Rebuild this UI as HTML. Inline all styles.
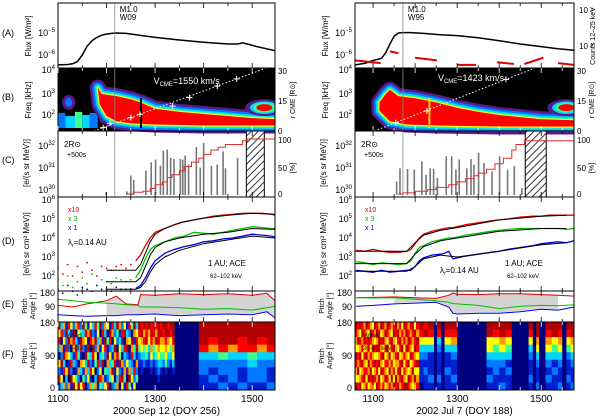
<!DOCTYPE html>
<html><head><meta charset="utf-8">
<style>
html,body{margin:0;padding:0;background:#fff;}
svg{display:block;font-family:"Liberation Sans",sans-serif;}
text{font-family:"Liberation Sans",sans-serif;}
</style></head>
<body>
<svg id="fig" width="600" height="416" viewBox="0 0 600 416" xmlns="http://www.w3.org/2000/svg">
<defs>
<pattern id="hatch" width="5" height="5" patternUnits="userSpaceOnUse" patternTransform="rotate(45)">
<rect width="5" height="5" fill="#fff"/><line x1="0" y1="0" x2="0" y2="5" stroke="#000" stroke-width="1.6"/>
</pattern>
</defs>
</svg>
<script>
// ---------------- DATA (left: 2000 Sep 12, right: 2002 Jul 7) ----------------
const xTickLabels=[1100,1300,1500];
// Panel A: GOES flux (log10 W/m^2)
const LA_t=[1100,1120,1130,1140,1150,1160,1170,1180,1190,1200,1210,1220,1240,1260,1300,1350,1400,1450,1470,1480,1490,1510,1530,1547];
const LA_v=[-6.45,-6.43,-6.4,-6.3,-6.0,-5.6,-5.35,-5.2,-5.1,-5.05,-5.02,-5.0,-5.02,-5.08,-5.2,-5.32,-5.42,-5.5,-5.5,-5.45,-5.5,-5.62,-5.72,-5.8];
const RA_t=[1057,1080,1100,1120,1130,1140,1150,1160,1170,1190,1220,1260,1300,1350,1400,1450,1500,1540,1578];
const RA_v=[-6.45,-6.38,-6.25,-6.15,-5.9,-5.5,-5.15,-5.0,-4.98,-4.98,-5.02,-5.08,-5.12,-5.22,-5.35,-5.5,-5.62,-5.72,-5.78];
// RHESSI counts segments (log10 counts): start, end, level at start, level at end
const RC_s=[1057,1140,1200,1300,1395,1460,1540];
const RC_e=[1118,1160,1252,1345,1435,1505,1578];
const RC_v0=[1.2,1.7,1.35,0.95,1.1,1.0,1.05];
const RC_v1=[1.05,1.6,1.2,0.95,1.0,1.35,0.95];
// Panel B: type III red core (t, log10 kHz)
const LB_t=[1182,1190,1220,1250,1270,1300,1350,1400,1450,1500,1547,1547,1400,1300,1250,1220,1200,1186];
const LB_f=[3.3,3.0,2.9,2.75,2.6,2.3,2.15,2.05,1.95,1.85,1.8,1.5,1.5,1.55,1.6,1.7,1.95,2.5];
const RB_t=[1115,1130,1140,1160,1200,1250,1300,1350,1400,1450,1500,1578,1578,1400,1250,1180,1140,1115];
const RB_f=[2.6,3.0,3.2,2.9,2.8,2.6,2.35,2.15,2.0,1.9,1.8,1.75,1.45,1.45,1.5,1.55,1.7,2.2];
// CME height-time points (R_sun)
const LH_t=[1193,1207,1250,1269,1336,1371,1428,1468];
const LH_r=[1.6,3.7,6.3,7.9,11.9,15.9,21.4,24.8];
const RH_t=[1154,1228,1416];
const RH_r=[4,9.5,24.6];
const vcme=['1550','1423'];
// Panel C: release histogram (log10) and cumulative %
const LC_t=[1199,1242,1250,1256,1281,1292,1301,1311,1317,1325,1332,1339,1352,1357,1362,1369,1385,1393,1400,1416,1428,1440,1445,1470,1503];
const LC_v=[29.9,29.95,30.67,30.48,30.9,31.27,31.4,31.12,31.8,31.85,31.47,31.42,31.42,31.4,31.58,31.17,31.97,31.03,32.15,31.12,31.17,31.77,31.0,31.47,31.55];
const RCh_t=[1156,1164,1182,1198,1216,1226,1236,1244,1253,1274,1287,1297,1305,1323,1333,1340,1351,1364,1383,1401,1420,1436,1454,1490];
const RCh_v=[30.4,31.0,30.97,30.94,31.32,30.7,31.0,30.97,30.56,31.55,31.55,30.94,31.4,31.0,31.42,31.17,31.7,31.24,30.86,31.55,30.94,31.1,30.1,31.32];
const LS_t=[1240,1255,1275,1290,1300,1315,1325,1335,1350,1360,1375,1390,1400,1415,1430,1445,1480,1490,1547];
const LS_p=[0,3,5,10,17,22,30,35,42,50,58,65,72,80,85,90,97,100,100];
const RS_t=[1160,1170,1200,1230,1250,1280,1300,1320,1340,1350,1370,1390,1410,1430,1440,1460,1578];
const RS_p=[0,2,5,8,12,17,22,28,33,38,45,55,65,80,90,97,97];
const hatchL=[1488,1525], hatchR=[1462,1512];
// Panel D: intensities (log10)
const LD_t=[1100,1110,1120,1130,1140,1150,1160,1170,1180,1190,1200,1210,1220,1230,1240,1250,1260,1270,1280,1290,1300,1320,1340,1360,1380,1400,1420,1440,1460,1480,1500,1520,1540,1547];
const LD_r=[2.4,2.1,2.6,2.0,2.5,2.2,2.7,2.3,2.0,2.5,2.4,2.3,2.5,2.6,2.4,2.6,2.8,3.1,3.6,4.0,4.3,4.5,4.7,4.85,4.95,5.05,5.15,5.2,5.25,5.3,5.3,5.3,5.25,5.2];
const LD_g=[1.8,1.5,2.0,1.4,1.7,1.9,1.6,2.1,1.5,1.8,1.7,1.6,1.9,1.8,1.7,1.8,1.9,2.3,2.9,3.4,3.6,3.8,4.0,4.1,4.3,4.25,4.2,4.3,4.4,4.5,4.6,4.55,4.5,4.5];
const LD_b=[1.3,1.1,1.5,1.2,1.0,1.4,1.3,1.2,1.5,1.3,1.3,1.2,1.4,1.3,1.3,1.3,1.35,1.5,1.9,2.4,2.8,3.2,3.4,3.55,3.65,3.8,3.85,3.95,4.0,4.1,4.2,4.15,4.1,4.05];
const LM_t=[1200,1260,1270,1280,1290,1300,1320,1350,1400,1450,1500,1547];
const LM_r=[2.3,2.3,2.6,3.2,3.8,4.2,4.5,4.8,5.05,5.2,5.3,5.25];
const LM_g=[1.7,1.7,1.9,2.5,3.1,3.5,3.8,4.0,4.2,4.3,4.5,4.45];
const LM_b=[1.3,1.3,1.4,1.7,2.2,2.6,3.0,3.35,3.7,3.9,4.1,4.0];
const RD_t=[1060,1080,1100,1120,1140,1160,1180,1190,1200,1210,1220,1240,1260,1270,1280,1290,1300,1320,1350,1380,1400,1420,1450,1480,1500,1520,1540,1560,1578];
const RD_r=[3.35,3.3,3.4,3.3,3.25,3.25,3.3,3.4,3.7,4.0,4.2,4.35,4.45,4.5,4.55,4.55,4.6,4.7,4.8,4.9,4.95,5.0,5.1,5.15,5.15,5.2,5.2,5.2,5.2];
const RD_g=[2.75,2.7,2.6,2.7,2.65,2.6,2.65,2.8,3.2,3.5,3.6,3.8,3.9,3.95,4.0,4.0,4.05,4.15,4.25,4.35,4.4,4.45,4.5,4.5,4.5,4.5,4.5,4.45,4.5];
const RD_b=[2.3,2.25,2.2,2.3,2.2,2.25,2.3,2.3,2.5,2.8,2.95,3.1,3.15,3.2,3.3,2.9,2.95,3.05,3.15,3.25,3.3,3.4,3.5,3.6,3.7,3.75,3.8,3.75,3.85];
const RM_t=[1057,1180,1200,1220,1260,1300,1400,1500,1560];
const RM_r=[3.3,3.3,3.75,4.15,4.4,4.55,4.95,5.15,5.2];
const RM_g=[2.65,2.65,3.15,3.55,3.85,4.0,4.35,4.5,4.5];
const RM_b=[2.25,2.25,2.5,2.9,3.1,3.0,3.3,3.65,3.75];
// Panel E: pitch angles (deg)
const LE_t=[1100,1130,1160,1200,1220,1240,1265,1270,1300,1350,1400,1450,1500,1530,1547];
const LE_r=[100,90,110,130,160,110,105,170,165,175,170,175,165,178,130];
const LE_g=[140,130,120,115,110,105,100,90,90,85,75,80,70,85,95];
const LE_b=[40,35,30,35,35,40,40,42,45,35,40,45,40,60,20];
const RE_t=[1060,1100,1150,1200,1250,1280,1290,1300,1350,1400,1450,1500,1540,1578];
const RE_r=[150,152,155,150,145,165,180,172,170,175,175,170,165,160];
const RE_g=[150,148,150,140,130,120,112,110,100,80,95,100,98,105];
const RE_b=[95,100,110,115,120,90,50,45,50,50,60,75,70,90];
const grayL=[1195,1555], grayR=[1150,1560];
// Panel F: pitch-angle distribution columns (start time, 9 rows top->bottom, colour index)
const LF_t=[
1100,1105,1110,1115,1120,
1125,1130,1135,1140,1145,
1150,1155,1160,1165,1170,
1175,1180,1185,1190,1195,
1200,1205,1210,1215,1220,
1225,1230,1235,1240,1245,
1250,1255,1260,
1265,1270,1275,1280,1285,
1290,1295,1300,1305,1310,
1315,1320,1325,1330,1335,
1340,
1390,1410,1430,1450,1470,
1490,1510,1530];
const LF_c=[
"857305271","370628153","625183706","182760532","738251806",
"516037281","287613058","603872145","751340628","248716305",
"836205147","475183620","160748352","587032716","326871504",
"718254036","453607281","806132574","271548063","638720415",
"504186327","187253640","760314852","325867103","842071536",
"613548270","279306185","580732641","136825907","725013684",
"408672351","861430725","357816240",
"875421000","786531100","867432000","778541000","865321000",
"787652100","876431000","768542100","887653210","786543100",
"876542000","887654100","786532000","875431000","887653100",
"000000000",
"888732211","887632121","888742212","888632221","887732112",
"888743221","887632221","888732112"];
const RF_t=[
1057,1062,1067,1072,1077,
1082,1087,1092,1097,1102,
1107,1112,1117,1122,1127,
1132,1137,1142,1147,1152,
1157,1162,1167,1172,1177,
1182,1187,1192,1197,1202,
1210,1220,1230,1245,1252,
1262,1270,1285,1300,1370,
1385,1400,1415,1430,1470,
1480,1488,1495,1510,1525,
1540,1550,1560,1570];
const RF_c=[
"876587658","768576857","857687568","786758675","678576786",
"867685757","758768685","687576876","576867587","865758675",
"786857768","678768587","857676856","768585767","686757685",
"875867576","767586857","658757686","786865758","875676587",
"687586768","768757876","576868587","867575768","786867658",
"678758587","767685676","876576865","587867586","768758567",
"875321110","785321211","875311121","000000000","873211121",
"000000000","875311211","876321121","000000000","885532121",
"875432211","886532112","875431211","000000000","875321121",
"000000000","886532112","000000000","876532121","885431211",
"876532112","000000000","875421121","886532112"];
// Spectrogram lower background band segments (start, end, top log f, colour index)
const LBg_s=[1100,1115,1135,1150,1165];
const LBg_e=[1115,1135,1150,1165,1182];
const LBg_f=[2.1,1.95,2.15,2.0,2.1];
const LBg_c=[2,3,4,3,2];
const palette=['#00007f','#0020d0','#0078ff','#00d4ff','#3cff8c','#ffff00','#ff9a00','#ff0000','#b40000','#5a1a8c'];

// ---------------- LAYOUT ----------------
const NS='http://www.w3.org/2000/svg';
const svg=document.getElementById('fig');
function el(tag,attrs,name,parent){
  const e=document.createElementNS(NS,tag);
  for(const k in attrs)e.setAttribute(k,attrs[k]);
  
  
  (parent||svg).appendChild(e);return e;
}
function txt(x,y,s,attrs,name){const t=el('text',Object.assign({x:x,y:y,fill:'#000'},attrs||{}),name);t.textContent=s;return t;}
function pow10(x,y,exp,anchor,name,fs){
  const t=el('text',{x:x,y:y,'font-size':fs||9,'text-anchor':anchor||'end'},name);
  const a=document.createElementNS(NS,'tspan');a.textContent='10';t.appendChild(a);
  const b=document.createElementNS(NS,'tspan');b.setAttribute('dy','-4');b.setAttribute('font-size','6');b.textContent=exp;t.appendChild(b);
  return t;
}
const P={A:[3,68],B:[68,131],C:[131,197],D:[197,291],E:[291,322],F:[322,390]};
const sides=[{k:'L',x0:58,x1:275,t0:1100,t1:1547},{k:'R',x0:355,x1:574,t0:1057,t1:1578}];
const yA=v=>33+(-5-v)*22;
const yCnt=v=>46-(v-2)*18;
const yB=f=>115-(f-2)*21;
const yR=r=>131-r*2.1;
const yC=v=>168.3-(v-31)*22;
const yP=p=>194-p*0.55;
const yD=v=>219-(v-5)*19;
const yE=a=>321-a*28/180;
function line(xs,ys,col,w,name,dash){
  const pts=xs.map((x,i)=>x.toFixed(1)+','+ys[i].toFixed(1)).join(' ');
  const a={points:pts,fill:'none',stroke:col,'stroke-width':w||1,'stroke-linejoin':'round'};
  if(dash)a['stroke-dasharray']=dash;
  return el('polyline',a,name);
}
function stepLine(xs,ys,col,name){
  let pts=[];for(let i=0;i<xs.length;i++){if(i>0)pts.push(xs[i].toFixed(1)+','+ys[i-1].toFixed(1));pts.push(xs[i].toFixed(1)+','+ys[i].toFixed(1));}
  return el('polyline',{points:pts.join(' '),fill:'none',stroke:col,'stroke-width':1},name);
}

sides.forEach(S=>{
  const L=S.k==='L';
  const X=t=>S.x0+(t-S.t0)*(S.x1-S.x0)/(S.t1-S.t0);
  const clipId='clip'+S.k;
  const cp=el('clipPath',{id:clipId},'clip-'+S.k);
  el('rect',{x:S.x0,y:3,width:S.x1-S.x0,height:387},'clip-rect',cp);
  const g=el('g',{'clip-path':'url(#'+clipId+')'},(L?'left':'right')+'-plot-area');
  const add=(e)=>{g.appendChild(e);return e;};

  // ---- Panel A
  add(line((L?LA_t:RA_t).map(X),(L?LA_v:RA_v).map(yA),'#000',1.5,'goes-flux-curve'));
  if(!L){RC_s.forEach((s,i)=>{add(el('line',{x1:X(s),x2:X(RC_e[i]),y1:yCnt(RC_v0[i]),y2:yCnt(RC_v1[i]),stroke:'#e00000','stroke-width':2},'rhessi-counts-segment'));});}
  // ---- Panel B
  add(el('rect',{x:S.x0,y:P.B[0],width:S.x1-S.x0,height:P.B[1]-P.B[0],fill:'#000'},'spectrogram-background'));
  if(L){LBg_s.forEach((s,i)=>{add(el('rect',{x:X(s),y:yB(LBg_f[i]),width:X(LBg_e[i])-X(s),height:P.B[1]-3-yB(LBg_f[i]),fill:palette[LBg_c[i]]},'spectrogram-background-emission'));});
    add(el('ellipse',{cx:X(1122),cy:yB(2.6),rx:5,ry:6,fill:palette[2],stroke:palette[9],'stroke-width':3},'radio-blob-early'));}
  const bt=L?LB_t:RB_t, bf=L?LB_f:RB_f;
  const poly=bt.map((t,i)=>X(t).toFixed(1)+','+yB(bf[i]).toFixed(1)).join(' ');
  [[16,9],[11,2],[7,3],[4,4],[2,5]].forEach(([w,c])=>{add(el('polygon',{points:poly,fill:palette[c],stroke:palette[c],'stroke-width':w,'stroke-linejoin':'round'},'type-iii-burst-halo'));});
  add(el('polygon',{points:poly,fill:palette[7]},'type-iii-burst-core'));
  const bx=L?1525:1560;
  [[12,9],[9,3],[7,4],[5,7]].forEach(([r,c])=>{add(el('ellipse',{cx:X(bx),cy:yB(2.35),rx:r*1.6,ry:r*0.7,fill:palette[c]},'radio-blob-late'));});
  add(el('rect',{x:X(L?1271:1234)-1,y:P.B[0]+30,width:2,height:30,fill:L?'#000':'#ffd000'},'data-gap-line'));
  const ht=L?LH_t:RH_t, hr=L?LH_r:RH_r, slope=L?0.0844:0.0786;
  const ta=ht[0]-hr[0]/slope, tb=ht[0]+(30-hr[0])/slope;
  add(el('line',{x1:X(ta),y1:yR(0),x2:X(tb),y2:yR(30),stroke:'#fff','stroke-width':1,'stroke-dasharray':'1.5,2'},'cme-height-fit'));
  ht.forEach((t,i)=>{const x=X(t),y=yR(hr[i]);
    add(el('path',{d:`M${x-3},${y}h6M${x},${y-3}v6`,stroke:'#fff','stroke-width':1},'cme-height-marker'));});
  // ---- Panel C
  (L?LC_t:RCh_t).forEach((t,i)=>{const v=(L?LC_v:RCh_v)[i];
    add(el('rect',{x:X(t)-0.8,y:yC(v),width:1.6,height:195-yC(v),fill:'#777'},'release-bar'));});
  const hz=L?hatchL:hatchR;
  add(el('rect',{x:X(hz[0]),y:P.C[0],width:X(hz[1])-X(hz[0]),height:P.C[1]-P.C[0],fill:'url(#hatch)',stroke:'#000','stroke-width':1},'hatched-interval'));
  add(stepLine((L?LS_t:RS_t).map(X),(L?LS_p:RS_p).map(yP),'#e03030','cumulative-release-line'));
  // ---- Panel D
  const dt=L?LD_t:RD_t, cut=L?1255:1040;
  [[L?LD_r:RD_r,'#e00000','red'],[L?LD_g:RD_g,'#00c000','green'],[L?LD_b:RD_b,'#0000e0','blue']].forEach(([arr,col,nm])=>{
    const xs=[],ys=[];
    dt.forEach((t,i)=>{if(t<cut){add(el('circle',{cx:X(t),cy:yD(arr[i]),r:0.9,fill:col},'intensity-dot-'+nm));}else{xs.push(X(t));ys.push(yD(arr[i]));}});
    add(line(xs,ys,col,1.3,'intensity-'+nm+'-series'));
  });
  const mt=L?LM_t:RM_t;
  [L?LM_r:RM_r,L?LM_g:RM_g,L?LM_b:RM_b].forEach(arr=>{add(line(mt.map(X),arr.map(yD),'#000',1,'model-fit-curve'));});
  // ---- Panel E
  const gz=L?grayL:grayR, et=L?LE_t:RE_t;
  const hi=(L?LE_r:RE_r).map(v=>Math.min(v+2,178)), lo=(L?LE_b:RE_b).map(v=>v+5);
  const gpts=[];et.forEach((t,i)=>{if(t>=gz[0]&&t<=gz[1])gpts.push(X(t)+','+yE(hi[i]));});
  for(let i=et.length-1;i>=0;i--){if(et[i]>=gz[0]&&et[i]<=gz[1])gpts.push(X(et[i])+','+yE(lo[i]));}
  add(el('polygon',{points:gpts.join(' '),fill:'#d4d4d4'},'pitch-angle-gray-band'));
  [[L?LE_r:RE_r,'#e00000','red'],[L?LE_g:RE_g,'#00c000','green'],[L?LE_b:RE_b,'#0000e0','blue']].forEach(([arr,col,nm])=>{
    add(line(et.map(X),arr.map(yE),col,1,'pitch-angle-'+nm));});
  // ---- Panel F
  const ft=L?LF_t:RF_t, fc=L?LF_c:RF_c, rh=(P.F[1]-P.F[0])/9;
  ft.forEach((t,i)=>{
    const s=fc[i]||fc[fc.length-1];
    const x0=X(t), x1=i+1<ft.length?X(ft[i+1]):S.x1;
    for(let r=0;r<9;r++){add(el('rect',{x:x0,y:P.F[0]+r*rh,width:x1-x0+0.4,height:rh+0.4,fill:palette[+s[r]]},'pad-cell'));}});
  txt(S.x0+8,338,'Wind',{'font-size':7,fill:'#222'},'wind-label');
  txt(S.x0+8,350,L?'50–82 keV':'20–82 keV',{'font-size':6,fill:'#222'},'wind-energy-label');

  // flare vertical line
  el('line',{x1:X(L?1217:1171),x2:X(L?1217:1171),y1:3,y2:197,stroke:'#888','stroke-width':0.8},'flare-time-line');
  // frames & ticks
  Object.keys(P).forEach(k=>{
    el('rect',{x:S.x0,y:P[k][0],width:S.x1-S.x0,height:P[k][1]-P[k][0],fill:'none',stroke:'#000','stroke-width':1},'panel-'+k.toLowerCase()+'-frame');
    const tc=(k==='B'||k==='F')?'#fff':'#000';
    for(let t=Math.ceil(S.t0/50)*50;t<=S.t1;t+=50){const x=X(t),ln=t%100===0?5:3;
      el('line',{x1:x,x2:x,y1:P[k][0],y2:P[k][0]+ln,stroke:tc,'stroke-width':0.8},'x-tick');
      el('line',{x1:x,x2:x,y1:P[k][1],y2:P[k][1]-ln,stroke:tc,'stroke-width':0.8},'x-tick');}
  });
  xTickLabels.forEach(t=>txt(X(t),402,String(t),{'font-size':10,'text-anchor':'middle'},'x-tick-label'));
  txt((S.x0+S.x1)/2,414,L?'2000 Sep 12 (DOY 256)':'2002 Jul 7 (DOY 188)',{'font-size':10,'text-anchor':'middle'},'x-axis-title');

  // y-axis labels
  const lx=S.x0-3;
  pow10(lx,36,'−5','end','y-tick-label-a');pow10(lx,58,'−6','end','y-tick-label-a');
  pow10(lx,97,'3','end','y-tick-label-b');pow10(lx,118,'2','end','y-tick-label-b');pow10(lx,73,'4','end','y-tick-label-b');
  pow10(lx,149,'32','end','y-tick-label-c');pow10(lx,171,'31','end','y-tick-label-c');pow10(lx,193,'30','end','y-tick-label-c');
  [6,5,4,3,2].forEach(v=>pow10(lx,yD(v)+3,String(v),'end','y-tick-label-d'));
  txt(lx,296,'180',{'font-size':9,'text-anchor':'end'},'y-tick-label-e');txt(lx,310,'90',{'font-size':9,'text-anchor':'end'},'y-tick-label-e');
  txt(lx,326,'180',{'font-size':9,'text-anchor':'end'},'y-tick-label-f');txt(lx,359,'90',{'font-size':9,'text-anchor':'end'},'y-tick-label-f');txt(lx,391,'0',{'font-size':9,'text-anchor':'end'},'y-tick-label-f');
  const rot=(x,y,s,fs,name)=>txt(x,y,s,{'font-size':fs||8,'text-anchor':'middle',transform:`rotate(-90 ${x} ${y})`},name);
  const tx=S.x0-27;
  rot(tx,36,'Flux [W/m²]',8,'y-axis-title-a');
  rot(tx,100,'Freq [kHz]',8,'y-axis-title-b');
  rot(tx-2,163,'[e/(s sr MeV)]',8,'y-axis-title-c');
  rot(tx-2,244,'[e/(s sr cm² MeV)]',8,'y-axis-title-d');
  rot(tx-4,306,'Pitch',7,'y-axis-title-e');rot(tx+4,306,'Angle [°]',7,'y-axis-title-e');
  rot(tx-4,356,'Pitch',7,'y-axis-title-f');rot(tx+4,356,'Angle [°]',7,'y-axis-title-f');
  if(L){[['(A)',36],['(B)',100],['(C)',163],['(D)',244],['(E)',307],['(F)',357]].forEach(([s,y])=>txt(2,y,s,{'font-size':9},'panel-label'));}
  // right axes
  const rx=S.x1+3;
  txt(rx,74,'30',{'font-size':8},'r-cme-tick');txt(rx,104,'15',{'font-size':8},'r-cme-tick');txt(rx,134,'0',{'font-size':8},'r-cme-tick');
  rot(S.x1+20,100,'r CME [R⊙]',7,'r-cme-axis-title');
  txt(rx,143,'100',{'font-size':8},'percent-tick');txt(rx,171,'50',{'font-size':8},'percent-tick');txt(rx,197,'0',{'font-size':8},'percent-tick');
  rot(S.x1+20,168,'[%]',7,'percent-axis-title');
  if(!L){txt(rx+2,13,'10 ⁴',{'font-size':8},'counts-tick');txt(rx+2,49,'10 ²',{'font-size':8},'counts-tick');rot(S.x1+21,36,'Counts 12–25 keV',7,'counts-axis-title');}
  // annotations
  const fx=X(L?1217:1171)+5;
  txt(fx,12,'M1.0',{'font-size':8},'flare-class-label');txt(fx,20,L?'W09':'W95',{'font-size':8},'flare-location-label');
  const vt=el('text',{x:X(L?1365:1333),y:L?84:81,'font-size':9,fill:'#fff','text-anchor':'middle'},'vcme-label');
  const v1=document.createElementNS(NS,'tspan');v1.textContent='V';vt.appendChild(v1);
  const v2=document.createElementNS(NS,'tspan');v2.setAttribute('font-size','6');v2.setAttribute('dy','2');v2.textContent='CME';vt.appendChild(v2);
  const v3=document.createElementNS(NS,'tspan');v3.setAttribute('dy','-2');v3.textContent='='+vcme[L?0:1]+' km/s';vt.appendChild(v3);
  txt(S.x0+6,147,'2R⊙',{'font-size':8},'release-height-label');txt(S.x0+9,157,'+500s',{'font-size':7},'release-offset-label');
  txt(S.x0+10,212,'x10',{'font-size':7,fill:'#e00000'},'legend-x10');
  txt(S.x0+10,221,'x 3',{'font-size':7,fill:'#00b000'},'legend-x3');
  txt(S.x0+10,230,'x 1',{'font-size':7,fill:'#0000e0'},'legend-x1');
  const lam=el('text',{x:L?S.x0+10:S.x0+85,y:L?245:273,'font-size':8},'lambda-label');
  const l1=document.createElementNS(NS,'tspan');l1.textContent='λ';lam.appendChild(l1);
  const l2=document.createElementNS(NS,'tspan');l2.setAttribute('font-size','5');l2.setAttribute('dy','2');l2.textContent='r';lam.appendChild(l2);
  const l3=document.createElementNS(NS,'tspan');l3.setAttribute('dy','-2');l3.textContent='=0.14 AU';lam.appendChild(l3);
  txt(S.x0+150,266,'1 AU; ACE',{'font-size':8},'instrument-label');
  txt(S.x0+152,278,'62–102 keV',{'font-size':6},'energy-label');
});
</script>
</body></html>
